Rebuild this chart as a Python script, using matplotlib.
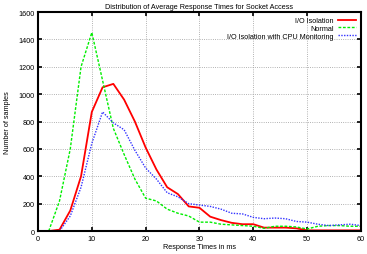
import numpy as np
from matplotlib import pyplot as plt

plt.rcParams['font.family'] = ['Liberation Sans', 'DejaVu Sans']

times = [2, 4, 6, 8, 10, 12, 14, 16, 18, 20, 22, 24, 26, 28, 30, 32, 34, 36, 38, 40,
         42, 44, 46, 48, 50, 52, 54, 56, 58, 60]
io_isolation = [0, 10, 150, 400, 870, 1050, 1075, 960, 800, 610, 450, 320, 270, 180, 170, 105,
                80, 60, 50, 50, 25, 25, 25, 20, 5, 5, 5, 5, 5, 5]
normal = [0, 220, 600, 1200, 1450, 1100, 750, 560, 380, 240, 220, 160, 130, 110, 65, 65,
          50, 45, 40, 35, 20, 35, 35, 30, 15, 35, 40, 40, 35, 35]
cpu_monitoring = [0, 0, 110, 320, 640, 870, 790, 740, 590, 460, 380, 280, 250, 200, 190, 180,
                  160, 130, 125, 100, 90, 95, 90, 70, 65, 50, 40, 45, 50, 40]

fig = plt.figure(figsize=(3.67, 2.55), dpi=100)
ax = fig.add_axes([0.1035, 0.09, 0.88, 0.859])

ax.plot(times, io_isolation, color='#ff0000', lw=1.3, label='I/O Isolation')
ax.plot(times, normal, color='#00ee00', lw=1.0, ls=(0, (2, 1.2)), label='Normal')
ax.plot(times, cpu_monitoring, color='#3333ff', lw=1.0, ls=(0, (1, 1)),
        label='I/O Isolation with CPU Monitoring')

ax.set_xlim(0, 60)
ax.set_ylim(0, 1600)
ax.set_xticks(np.arange(0, 61, 10))
ax.set_yticks(np.arange(0, 1601, 200))
ax.grid(True, color='#999999', ls=':', lw=0.6)
ax.tick_params(direction='in', length=3, width=1.2, labelsize=5.2, top=True, right=True, pad=2.5)
for s in ax.spines.values():
    s.set_linewidth(1.5)

ax.set_title("Distribution of Average Response Times for Socket Access", fontsize=5.2, pad=3)
ax.set_xlabel("Response Times in ms", fontsize=5.2, labelpad=1)
ax.set_ylabel("Number of samples", fontsize=5.2, labelpad=5)

ax.legend(loc='upper right', frameon=False, markerfirst=False, fontsize=5.2,
          handlelength=2.5, borderaxespad=0.3, labelspacing=0.1, handletextpad=0.6)

plt.savefig("out.png", dpi=100)
